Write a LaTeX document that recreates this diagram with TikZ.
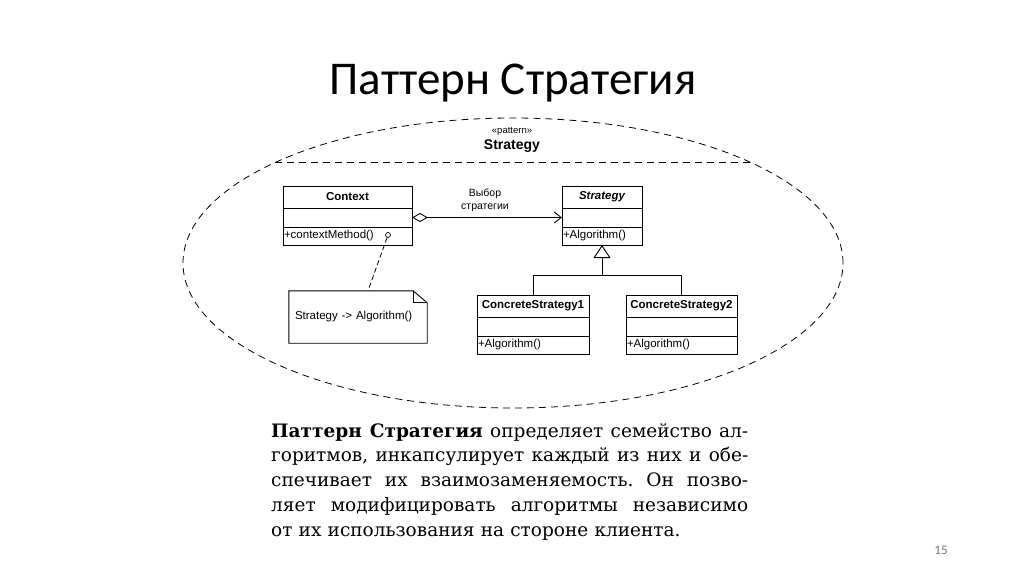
\documentclass[tikz,border=0pt]{standalone}
\usepackage{fontspec}
\setmainfont{DejaVu Serif}
\newfontfamily\titlefont{Carlito}
\newfontfamily\umlfont{Liberation Sans}
\usetikzlibrary{positioning, shapes.geometric, arrows.meta}

\newcommand\bookline[1]{\hbox to 477pt{\spaceskip=0pt\xspaceskip=0pt\relax #1}}

\begin{document}
\begin{tikzpicture}[x=1pt, y=-1pt,
  uml/.style={font=\umlfont\fontsize{11.5}{13}\selectfont},
  box/.style={draw, uml, line width=0.9pt, inner sep=0pt, outer sep=0pt},
  head/.style={box, minimum height=22pt, font=\umlfont\bfseries\fontsize{11.5}{13}\selectfont},
  attr/.style={box, minimum height=19pt},
  ops/.style={box, minimum height=18pt, align=left, inner xsep=1pt},
  link/.style={line width=0.9pt}]

\useasboundingbox (0,0) rectangle (1024,574);

%naslov
\node[font=\titlefont\fontsize{47}{50}\selectfont] (title) at (513,83) {Паттерн Стратегия};

%okvir uzorka
\node[draw, ellipse, line width=0.8pt, dash pattern=on 7pt off 5pt,
      minimum width=660pt, minimum height=290pt] (pat) at (513,263) {};
\draw[line width=0.8pt, dash pattern=on 7pt off 5pt] (pat.157) -- (pat.23);
\node[font=\umlfont\fontsize{9.5}{11}\selectfont] (pattag) at (512,131) {«pattern»};
\node[font=\umlfont\bfseries\fontsize{14}{16}\selectfont] (patname) at (512,146) {Strategy};

%klasa Context
\node[head, minimum width=129pt] (ctx) at (347.5,197) {Context};
\node[attr, minimum width=129pt, below=0pt of ctx] (ctxattr) {};
\node[ops, text width=127pt, below=0pt of ctxattr] (ctxops) {+contextMethod()};

%klasa Strategy
\node[head, minimum width=80pt] (strat) at (602,197) {\itshape Strategy};
\node[attr, minimum width=80pt, below=0pt of strat] (stratattr) {};
\node[ops, text width=78pt, below=0pt of stratattr] (stratops) {+Algorithm()};

%konkretne strategije
\node[head, minimum width=112pt] (cs1) at (533,306) {ConcreteStrategy1};
\node[attr, minimum width=112pt, below=0pt of cs1] (cs1attr) {};
\node[ops, text width=110pt, below=0pt of cs1attr] (cs1ops) {+Algorithm()};

\node[head, minimum width=111pt] (cs2) at (681.5,306) {ConcreteStrategy2};
\node[attr, minimum width=111pt, below=0pt of cs2] (cs2attr) {};
\node[ops, text width=109pt, below=0pt of cs2attr] (cs2ops) {+Algorithm()};

%biljeska
\node[uml, inner xsep=6pt, inner ysep=0pt, text width=126pt, align=left,
      minimum height=52pt] (note) at (358,317) {Strategy -> Algorithm()};
\draw[link] (note.north west) -- ([xshift=-14pt]note.north east)
  -- ([yshift=-12pt]note.north east) -- (note.south east) -- (note.south west) -- cycle;
\draw[line width=0.7pt] ([xshift=-14pt]note.north east) |- ([yshift=-12pt]note.north east);
\node[draw, circle, line width=0.7pt, inner sep=0pt, minimum size=5pt] (pin) at (388,235) {};
\draw[line width=0.8pt, dash pattern=on 5pt off 3pt] (pin) -- ([xshift=10pt]note.north);

%agregacija
\draw[link, {Diamond[open, length=16pt, width=9pt]}-{Straight Barb[length=7pt, width=11pt]}]
  (ctxattr.east) -- (stratattr.west);
\node[uml, font=\umlfont\fontsize{10.5}{13}\selectfont, align=center] (choice) at (485,200) {Выбор\\стратегии};

%nasljeđivanje
\coordinate (fork) at (stratops.south |- 0,275);
\draw[link] (cs1.north) |- (fork);
\draw[link] (cs2.north) |- (fork);
\draw[link, -{Triangle[open, length=13pt, width=17pt]}] (fork) -- (stratops.south);

%opis
\node[anchor=north west, text width=477pt, align=left, inner sep=0pt,
      font=\fontsize{18.5}{24.8}\selectfont\frenchspacing] (desc) at (271,423)
  {\bookline{\textbf{Паттерн Стратегия} определяет семейство ал-}
   \bookline{горитмов, инкапсулирует каждый из них и обе-}
   \bookline{спечивает их взаимозаменяемость. Он позво-}
   \bookline{ляет модифицировать алгоритмы независимо}
   \hbox{от их использования на стороне клиента.}};

%broj stranice
\node[font=\titlefont\fontsize{13}{15}\selectfont, text=black!55] (page) at (941,550) {15};

\end{tikzpicture}
\end{document}
